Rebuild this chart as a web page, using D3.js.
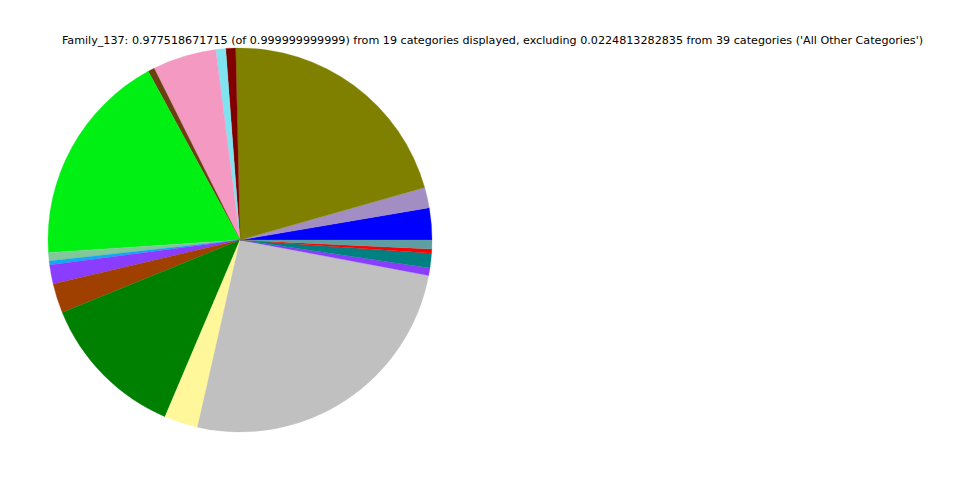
<!DOCTYPE html>
<html>
<head>
<meta charset="utf-8">
<script src="https://cdn.jsdelivr.net/npm/d3@7"></script>
<style>
  html, body { margin: 0; padding: 0; background: #ffffff; }
  svg { display: block; }
</style>
</head>
<body>
<svg id="chart" width="960" height="480"></svg>
<script>
const categories = [
  "Category_01", "Category_02", "Category_03", "Category_04", "Category_05",
  "Category_06", "Category_07", "Category_08", "Category_09", "Category_10",
  "Category_11", "Category_12", "Category_13", "Category_14", "Category_15",
  "Category_16", "Category_17", "Category_18", "Category_19"
];
const values = [
  0.0263, 0.0168, 0.2047, 0.0081, 0.0081,
  0.0524, 0.0054, 0.1770, 0.0068, 0.0033,
  0.0157, 0.0242, 0.1216, 0.0277, 0.2501,
  0.0062, 0.0119, 0.0035, 0.0073
];
const colors = [
  "#0000ff", "#a38ec4", "#808000", "#800000", "#7fe3f0",
  "#f49ac2", "#6b4011", "#00f014", "#83c89b", "#12aaf0",
  "#8a3dff", "#a04000", "#008000", "#fff799", "#c0c0c0",
  "#8a3dff", "#008080", "#ff0000", "#5f9ea0"
];
const titleText = "Family_137: 0.977518671715 (of 0.999999999999) from 19 categories displayed, excluding 0.0224813282835 from 39 categories ('All Other Categories')";

const svg = d3.select("#chart");
const cx = 240, cy = 240, radius = 192;

const data = categories.map((c, i) => ({ category: c, value: values[i], color: colors[i] }));

const pie = d3.pie()
  .sort(null)
  .value(d => d.value)
  .startAngle(Math.PI / 2)
  .endAngle(Math.PI / 2 - 2 * Math.PI);

const arc = d3.arc().innerRadius(0).outerRadius(radius);

const g = svg.append("g").attr("transform", `translate(${cx},${cy})`);
g.selectAll("path")
  .data(pie(data))
  .join("path")
  .attr("d", arc)
  .attr("fill", d => d.data.color)
  .attr("stroke", d => d.data.color)
  .attr("stroke-width", 0.3);

svg.append("text")
  .attr("x", 492.5)
  .attr("y", 44)
  .attr("text-anchor", "middle")
  .attr("font-family", "DejaVu Sans, sans-serif")
  .attr("font-size", 11.15)
  .attr("fill", "#000")
  .text(titleText);
</script>
</body>
</html>
